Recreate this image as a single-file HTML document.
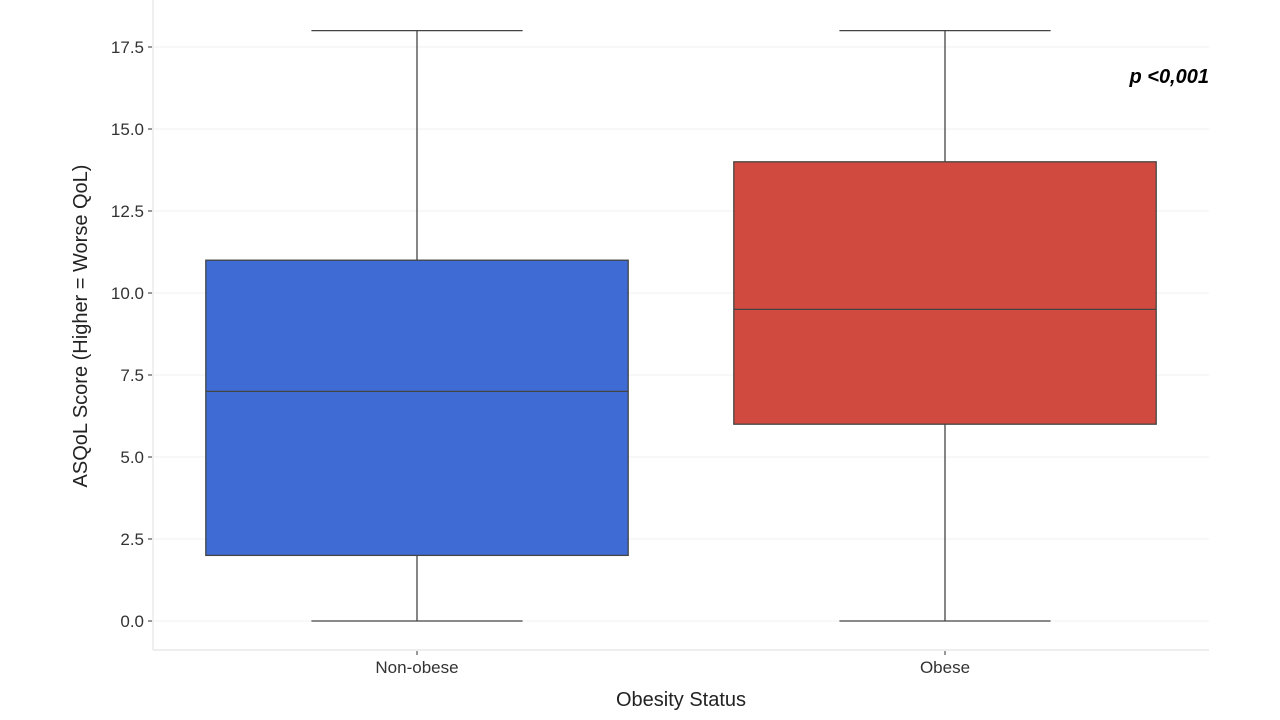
<!DOCTYPE html>
<html><head><meta charset="utf-8"><style>
body{margin:0;background:#fff;}
svg{display:block;font-family:"Liberation Sans",sans-serif;}
</style></head><body>
<svg id="chart" width="1280" height="720"></svg>
<script>
const categories=["Non-obese","Obese"];
const whiskerLow=[0,0];
const q1Values=[2,6];
const medianValues=[7,9.5];
const q3Values=[11,14];
const whiskerHigh=[18,18];
const colors=["#3e6bd4","#d14a3f"];
const yTicks=[0,2.5,5,7.5,10,12.5,15,17.5];
const tickLabels=["0.0","2.5","5.0","7.5","10.0","12.5","15.0","17.5"];
const NS="http://www.w3.org/2000/svg";
const svg=document.getElementById('chart');
const X0=153,X1=1209,Y0=0,YB=650;
const y=v=>621-v*32.8;
const bandW=(X1-X0)/categories.length;
const xc=i=>X0+bandW*(i+0.5);
function mk(t,a){const e=document.createElementNS(NS,t);for(const k in a)e.setAttribute(k,a[k]);svg.appendChild(e);return e;}
yTicks.forEach((v,i)=>{
 const g=mk('line',{x1:X0,x2:X1,y1:y(v),y2:y(v),stroke:'#f0f0f0','stroke-width':1});
 
 
 const t=mk('line',{x1:X0-5,x2:X0-1,y1:y(v),y2:y(v),stroke:'#333','stroke-width':1});
 
 
 const l=mk('text',{x:X0-9,y:y(v)+6,'text-anchor':'end','font-size':17,fill:'#333'});
 l.textContent=tickLabels[i];
 
 
});
const sp1=mk('line',{x1:X0,x2:X0,y1:Y0,y2:YB,stroke:'#e4e4e4','stroke-width':1.2});


const sp2=mk('line',{x1:X0,x2:X1,y1:YB,y2:YB,stroke:'#e4e4e4','stroke-width':1.2});


const boxW=bandW*0.8,capW=bandW*0.4;
categories.forEach((c,i)=>{
 const cx=xc(i);
 const w1=mk('line',{x1:cx,x2:cx,y1:y(whiskerLow[i]),y2:y(q1Values[i]),stroke:'#444','stroke-width':1.3});
 
 
 const w2=mk('line',{x1:cx,x2:cx,y1:y(q3Values[i]),y2:y(whiskerHigh[i]),stroke:'#444','stroke-width':1.3});
 
 
 [whiskerLow[i],whiskerHigh[i]].forEach(v=>{
  const cp=mk('line',{x1:cx-capW/2,x2:cx+capW/2,y1:y(v),y2:y(v),stroke:'#444','stroke-width':1.3});
  
  
 });
 const b=mk('rect',{x:cx-boxW/2,y:y(q3Values[i]),width:boxW,height:y(q1Values[i])-y(q3Values[i]),fill:colors[i],stroke:'#444','stroke-width':1.3});
 
 
 const m=mk('line',{x1:cx-boxW/2,x2:cx+boxW/2,y1:y(medianValues[i]),y2:y(medianValues[i]),stroke:'#444','stroke-width':1.3});
 
 
 const tk=mk('line',{x1:cx,x2:cx,y1:YB+1,y2:YB+5,stroke:'#333','stroke-width':1});
 
 
 const lb=mk('text',{x:cx,y:673,'text-anchor':'middle','font-size':17,fill:'#333'});
 lb.textContent=c;
 
 
});
const xt=mk('text',{x:(X0+X1)/2,y:706,'text-anchor':'middle','font-size':20,fill:'#222'});
xt.textContent='Obesity Status';


const yt=mk('text',{x:0,y:0,'text-anchor':'middle','font-size':20,fill:'#222',transform:'translate(87,326) rotate(-90)'});
yt.textContent='ASQoL Score (Higher = Worse QoL)';


const pv=mk('text',{x:1209,y:83,'text-anchor':'end','font-size':20,'font-weight':'bold','font-style':'italic',fill:'#000'});
pv.textContent='p <0,001';


</script>
</body></html>
